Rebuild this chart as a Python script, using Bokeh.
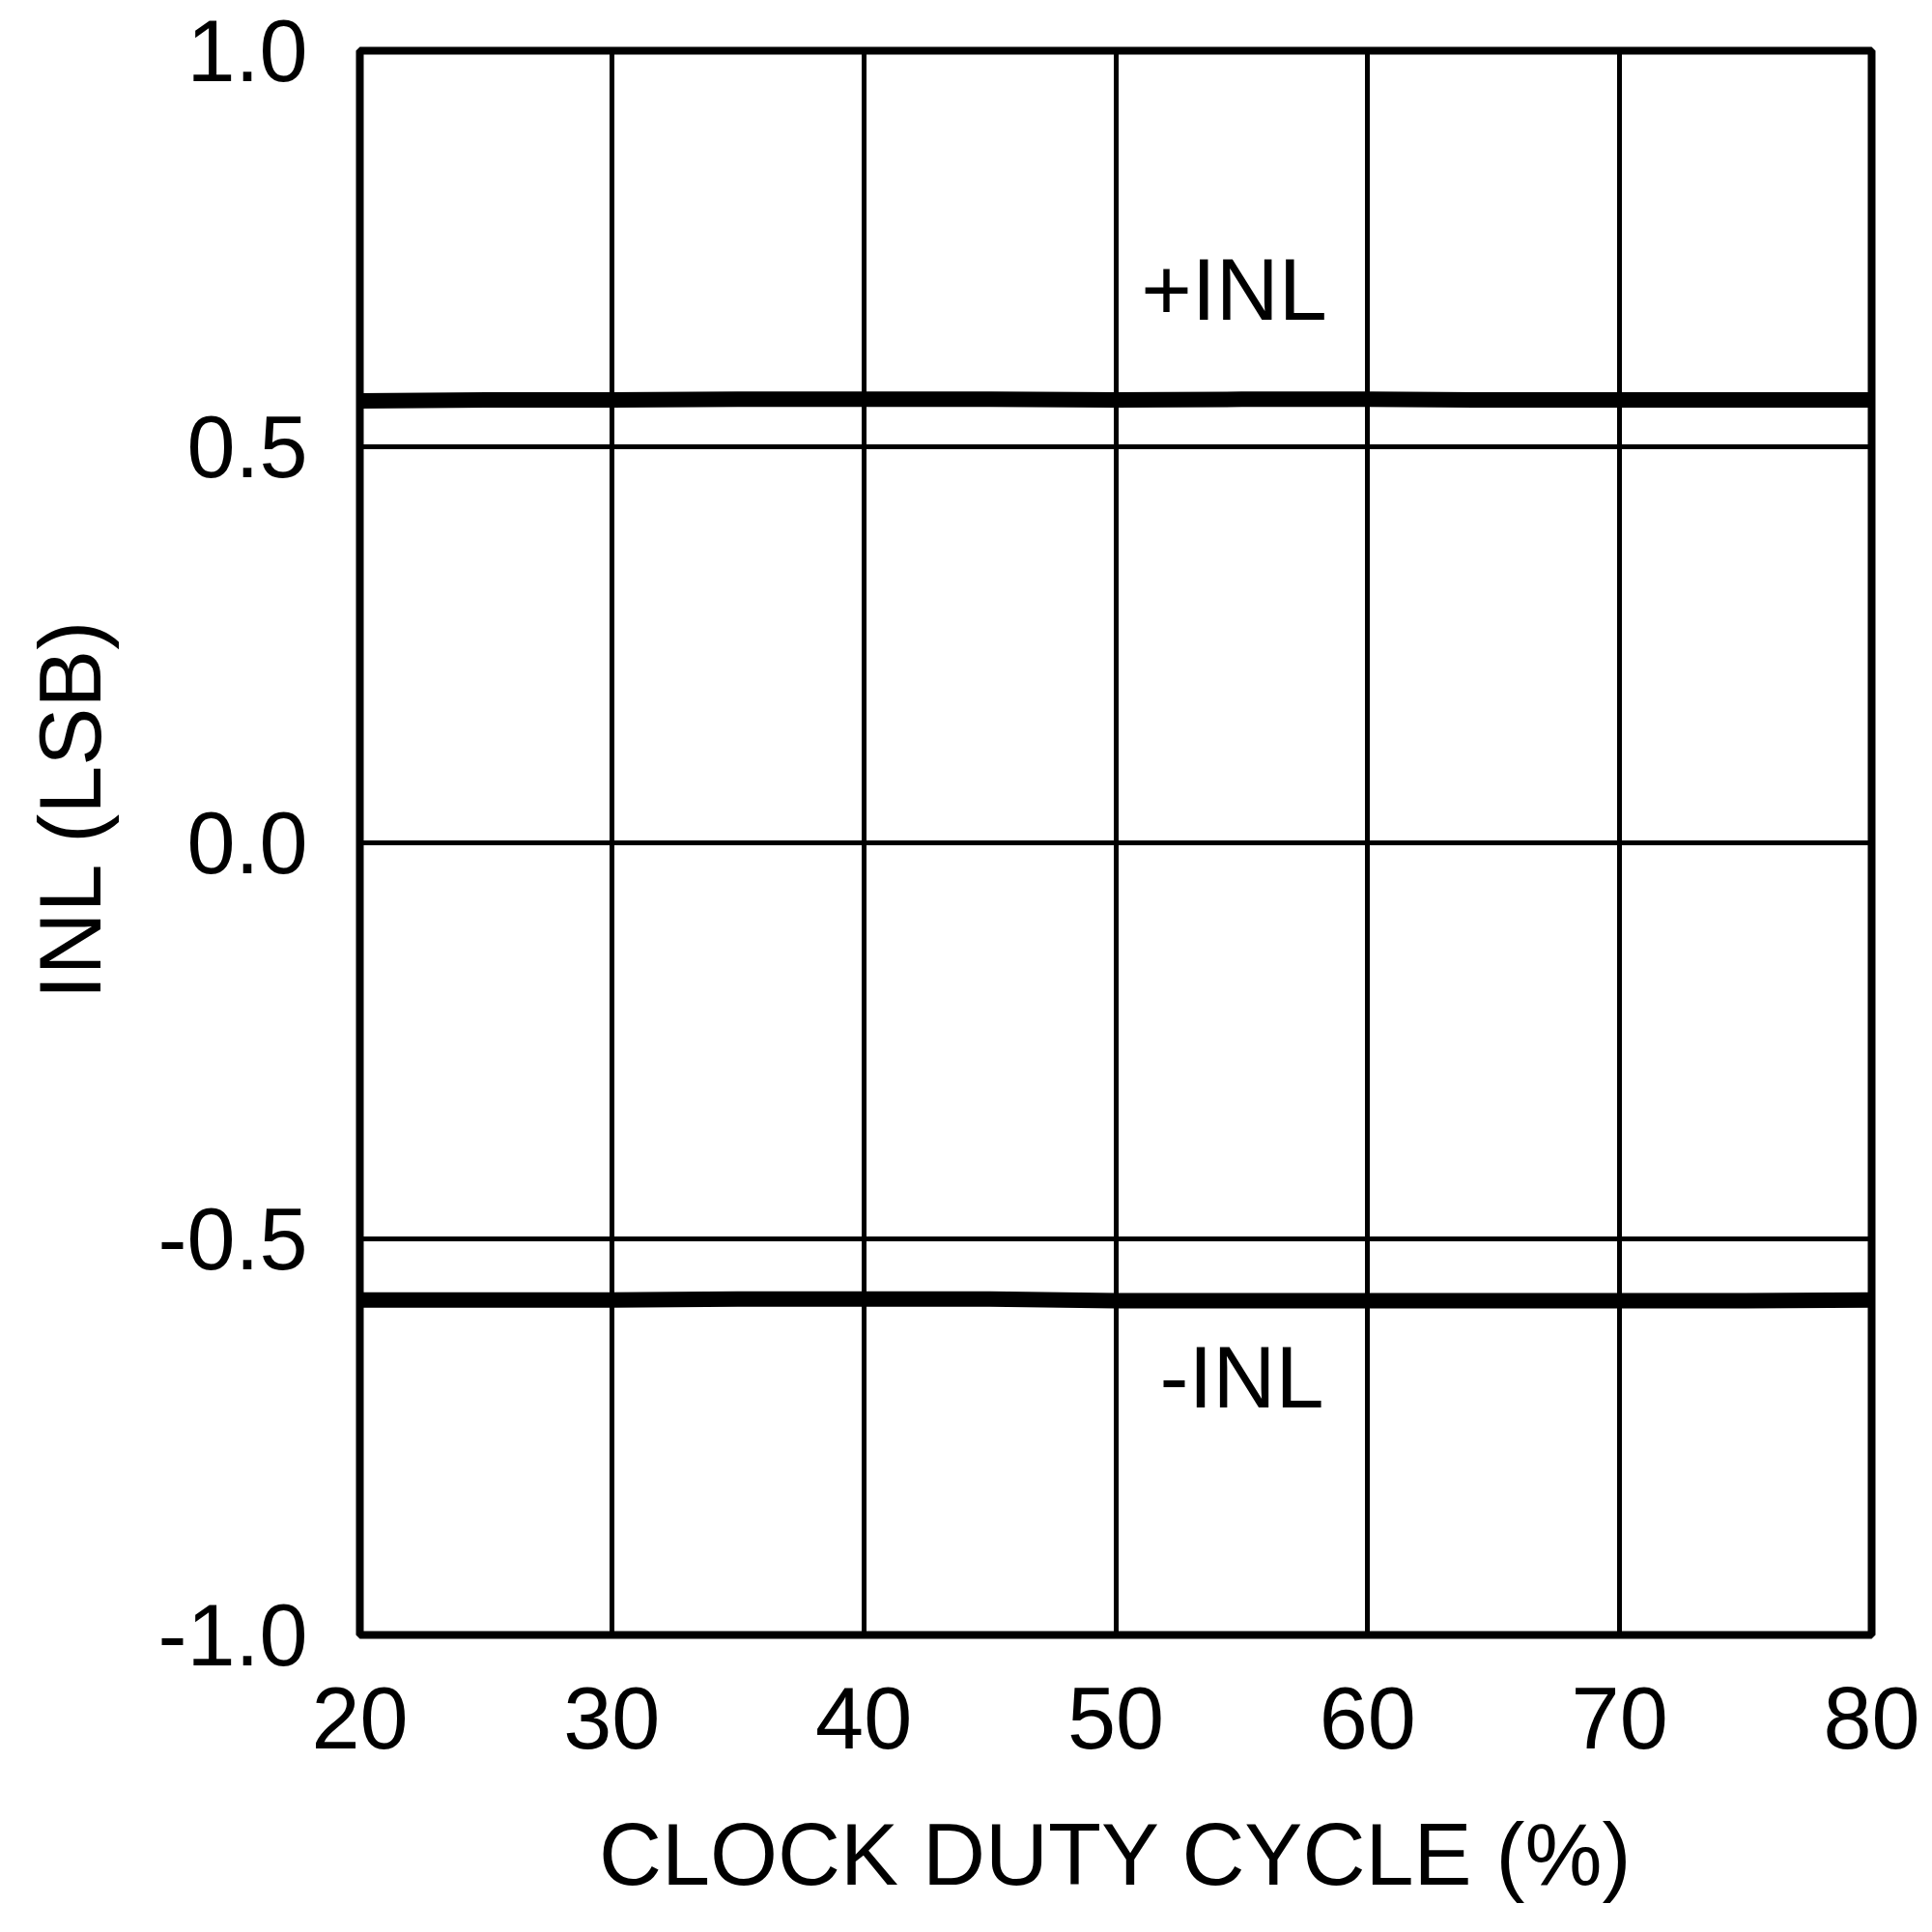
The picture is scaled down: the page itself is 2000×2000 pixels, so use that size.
from bokeh.plotting import figure
from bokeh.models import Range1d, FixedTicker, PrintfTickFormatter, Label, Title
from bokeh.embed import file_html
from bokeh.resources import INLINE

# ---- data ----
duty_cycle = [20, 25, 30, 35, 40, 45, 50, 55, 60, 65, 70, 75, 80]
inl_pos = [0.558, 0.559, 0.559, 0.560, 0.560, 0.560, 0.559, 0.560, 0.560, 0.559, 0.559, 0.559, 0.559]
inl_neg = [-0.577, -0.577, -0.577, -0.576, -0.576, -0.576, -0.578, -0.578, -0.578, -0.578, -0.578, -0.578, -0.577]
x_ticks = [20, 30, 40, 50, 60, 70, 80]
y_ticks = [-1.0, -0.5, 0.0, 0.5, 1.0]
x_title = "CLOCK DUTY CYCLE (%)"
y_title = "INL (LSB)"
series_labels = ["+INL", "-INL"]

FONT = "Liberation Sans"
FS = "90px"

p = figure(width=1990, height=1990, output_backend="svg", toolbar_location=None,
           x_range=Range1d(20, 80), y_range=Range1d(-1, 1),
           min_border_left=366, min_border_top=52, min_border_right=53, min_border_bottom=298)

p.outline_line_color = "black"
p.outline_line_width = 8
p.background_fill_color = "white"
p.border_fill_color = "white"

for ax in (p.xaxis[0], p.yaxis[0]):
    ax.axis_line_color = None
    ax.major_tick_line_color = None
    ax.minor_tick_line_color = None
    ax.major_tick_out = 0
    ax.major_tick_in = 0
    ax.major_label_text_font = FONT
    ax.major_label_text_font_size = FS
    ax.major_label_text_color = "black"

p.xaxis[0].ticker = FixedTicker(ticks=x_ticks)
p.xaxis[0].formatter = PrintfTickFormatter(format="%d")
p.xaxis[0].major_label_standoff = 54
p.xaxis[0].axis_label = x_title
p.xaxis[0].axis_label_text_font = FONT
p.xaxis[0].axis_label_text_font_size = FS
p.xaxis[0].axis_label_text_font_style = "normal"
p.xaxis[0].axis_label_text_color = "black"
p.xaxis[0].axis_label_standoff = 57

p.yaxis[0].ticker = FixedTicker(ticks=y_ticks)
p.yaxis[0].formatter = PrintfTickFormatter(format="%.1f")
p.yaxis[0].major_label_standoff = 54
# tiny invisible spacer label: widens the axis panel so the title sits further out
p.yaxis[0].axis_label = " "
p.yaxis[0].axis_label_text_font_size = "2px"
p.yaxis[0].axis_label_standoff = 13

p.add_layout(Title(text=y_title, align="left", offset=658, standoff=40,
                   text_font=FONT, text_font_size=FS, text_font_style="normal",
                   text_color="black"), "left")

p.xgrid[0].ticker = FixedTicker(ticks=x_ticks)
p.ygrid[0].ticker = FixedTicker(ticks=y_ticks)
for g in (p.xgrid[0], p.ygrid[0]):
    g.grid_line_color = "black"
    g.grid_line_width = 5
    g.grid_line_alpha = 1.0

p.line(duty_cycle, inl_pos, line_color="black", line_width=16)
p.line(duty_cycle, inl_neg, line_color="black", line_width=16)

p.add_layout(Label(x=54.7, y=0.698, text=series_labels[0], text_align="center",
                   text_baseline="alphabetic", text_font=FONT, text_font_size=FS,
                   text_color="black"))
p.add_layout(Label(x=55.0, y=-0.6745, text=series_labels[1], text_align="center",
                   text_baseline="alphabetic", text_font=FONT, text_font_size=FS,
                   text_color="black"))

open("out.html", "w").write(file_html(p, INLINE))
